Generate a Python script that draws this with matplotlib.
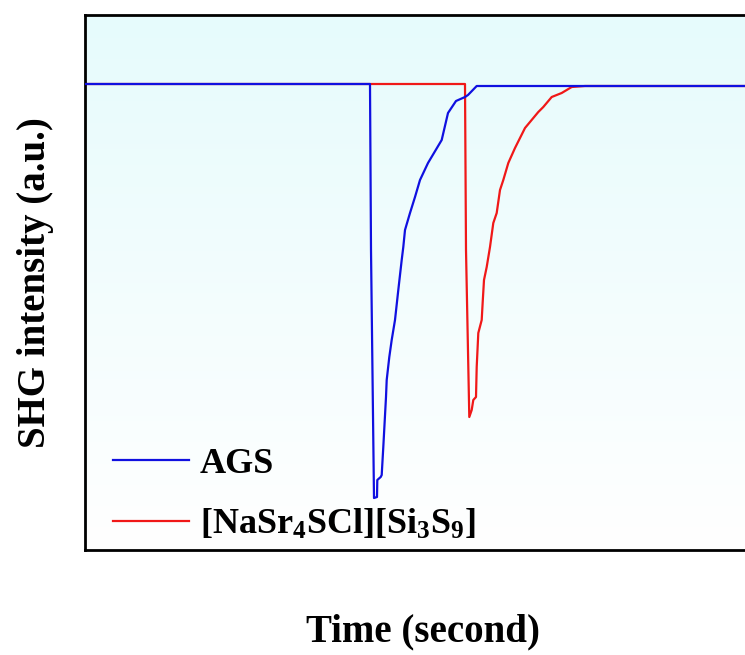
import numpy as np
import matplotlib.pyplot as plt
from matplotlib.colors import LinearSegmentedColormap

plt.rcParams['font.family'] = 'Liberation Serif'
plt.rcParams['font.weight'] = 'bold'
plt.rcParams['mathtext.fontset'] = 'custom'
plt.rcParams['mathtext.rm'] = 'Liberation Serif:bold'
plt.rcParams['mathtext.it'] = 'Liberation Serif:bold'
plt.rcParams['mathtext.bf'] = 'Liberation Serif:bold'

# data (arbitrary units)
ags_t = [0, 285, 286, 289, 292, 292.3, 295.7, 296.7, 298.3, 301, 301.7, 304.3, 306.7,
         310, 313.3, 316.7, 318.3, 320, 325, 330, 335, 343, 356.7, 363, 371, 380, 383,
         391.7, 500, 680]
ags_i = [466, 466, 300, 52, 53, 70, 73, 75, 103, 153, 170, 193, 210,
         230, 260, 290, 303, 320, 337, 353, 370, 387, 410, 437, 449, 453, 455,
         464, 464, 464]

nss_t = [0, 380, 381, 384.3, 386.7, 388.3, 391, 391.7, 393.3, 396.7, 397.7, 399,
         401.7, 405, 408.3, 411.7, 415, 418.3, 423.3, 430, 440, 453.3, 458.3, 466.7,
         476.7, 486.7, 500, 680]
nss_i = [466, 466, 300, 133, 140, 150, 153, 183, 217, 230, 248, 270,
         283, 303, 327, 337, 360, 370, 387, 402, 422, 438, 443, 453,
         457, 463, 464, 464]

fig = plt.figure(figsize=(7.45, 6.55), dpi=100)
ax = fig.add_axes([85 / 745, 1 - 550 / 655, 675 / 745, 535 / 655])

xmin, xmax, ymin, ymax = 0, 675, 0, 535
cmap = LinearSegmentedColormap.from_list('bg', ['#ffffff', '#e6fbfc'])
grad = np.linspace(0, 1, 256).reshape(-1, 1)
ax.imshow(grad, cmap=cmap, origin='lower', aspect='auto',
          extent=[xmin, xmax, ymin, ymax], zorder=0)

ax.plot(ags_t, ags_i, color='#1010e0', lw=1.6, label='AGS', zorder=3)
ax.plot(nss_t, nss_i, color='#f01818', lw=1.6,
        label=r'[NaSr$_4$SCl][Si$_3$S$_9$]', zorder=2)

ax.set_xlim(xmin, xmax)
ax.set_ylim(ymin, ymax)
ax.set_xticks([])
ax.set_yticks([])
for s in ax.spines.values():
    s.set_linewidth(2)

ax.set_xlabel('Time (second)', fontsize=28, fontweight='bold', labelpad=46)
ax.set_ylabel('SHG intensity (a.u.)', fontsize=28, fontweight='bold', labelpad=22)

ax.legend(loc='lower left', frameon=False, fontsize=26, handlelength=2.1,
          handletextpad=0.3, labelspacing=0.75, borderaxespad=0.0,
          bbox_to_anchor=(0.02, -0.012))

fig.savefig('out.png', dpi=100)
